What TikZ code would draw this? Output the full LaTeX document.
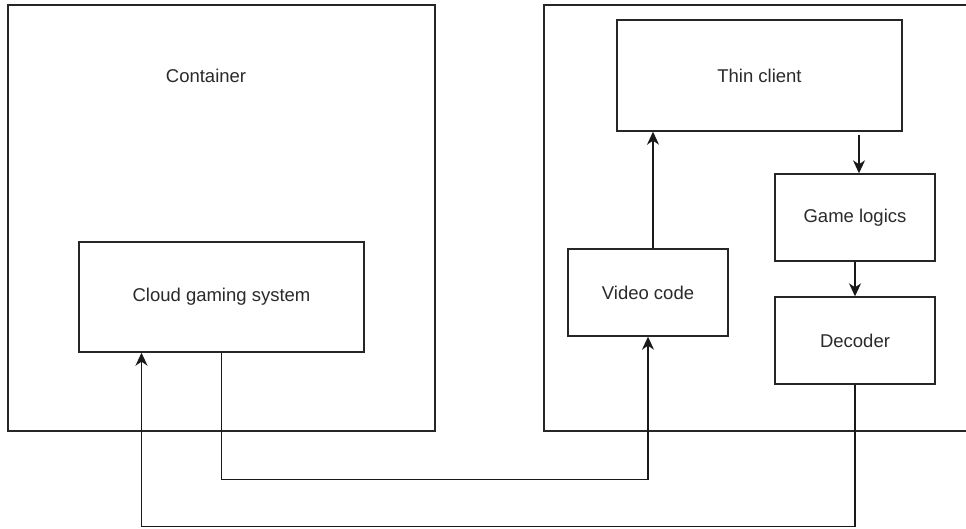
\documentclass[tikz,border=0pt]{standalone}
\usepackage{fontspec}
\setmainfont{Liberation Sans}
\usetikzlibrary{arrows.meta}
\definecolor{txt}{HTML}{2A2A2A}
\tikzset{
  box/.style={draw=black!85, line width=1.4pt, rectangle, inner sep=0pt,
    font=\fontsize{18.5}{22}\selectfont, text=txt},
  lbl/.style={font=\fontsize{18.5}{22}\selectfont, text=txt, inner sep=0pt},
  frame/.style={draw=black!85, line width=1.4pt},
  arr/.style={draw=black!90, line width=1.4pt,
    -{Stealth[length=13pt,width=12pt,inset=4pt]}}
}
\begin{document}
\begin{tikzpicture}[x=1pt,y=-1pt]
  \useasboundingbox (0,0) rectangle (966,528);
  \clip (0,0) rectangle (966,528);
  \fill[white] (0,0) rectangle (966,528);

  % server side container and client side frame
  \draw[frame] (8,5) rectangle (435,431);
  \node[lbl] (containerlbl) at (206,76) {Container};
  \draw[frame] (544,5) rectangle (990,431);

  % processing blocks
  \node[box, minimum width=285pt, minimum height=110pt] (cloud) at (221.5,297) {Cloud gaming system};
  \node[box, minimum width=285pt, minimum height=111pt] (thin) at (759.5,75.5) {Thin client};
  \node[box, minimum width=160pt, minimum height=87pt] (game) at (855,217.5) {Game logics};
  \node[box, minimum width=160pt, minimum height=87pt] (video) at (648,292.5) {Video code};
  \node[box, minimum width=160pt, minimum height=87pt] (decoder) at (855,340.5) {Decoder};

  % data flow
  \draw[arr] ([xshift=5pt]video.north) -- ([xshift=5pt]video.north |- thin.south);
  \draw[arr] ([xshift=4pt,yshift=-3pt]game.north |- thin.south) -- ([xshift=4pt]game.north);
  \draw[arr] (game.south) -- (decoder.north);
  \draw[arr] (cloud.south) -- ++(0,127) -| (video.south);
  \draw[arr] (decoder.south) -- ++(0,142) -| ([xshift=-80pt]cloud.south);
\end{tikzpicture}
\end{document}
